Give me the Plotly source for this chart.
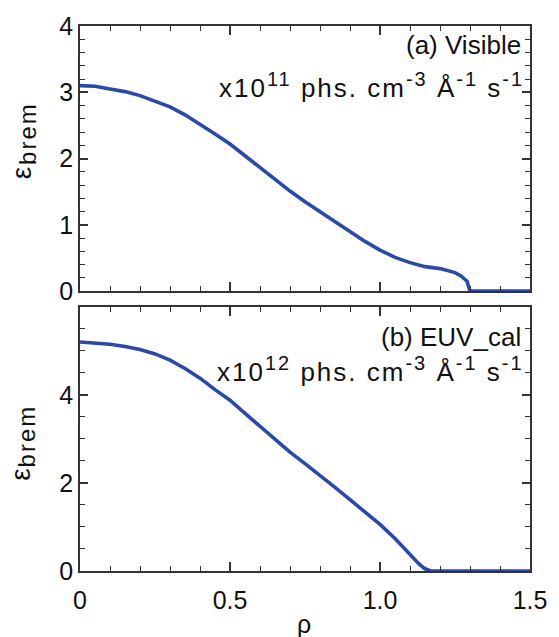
import plotly.graph_objects as go
from plotly.subplots import make_subplots

# Radial coordinate (normalised minor radius)
rho_a = [0.0, 0.05, 0.1, 0.15, 0.2, 0.25, 0.3, 0.35, 0.4, 0.45, 0.5, 0.55, 0.6, 0.65,
         0.7, 0.75, 0.8, 0.85, 0.9, 0.95, 1.0, 1.05, 1.1, 1.15, 1.2, 1.25, 1.27, 1.29,
         1.3, 1.35, 1.4, 1.45, 1.5]
# (a) visible bremsstrahlung emissivity, x1e11 phs cm^-3 A^-1 s^-1
eps_visible = [3.10, 3.09, 3.05, 3.01, 2.95, 2.87, 2.78, 2.66, 2.52, 2.37, 2.22, 2.04, 1.86, 1.68,
               1.51, 1.35, 1.20, 1.04, 0.89, 0.75, 0.62, 0.51, 0.43, 0.37, 0.34, 0.28, 0.23, 0.15,
               0.0, 0.0, 0.0, 0.0, 0.0]

rho_b = [0.0, 0.05, 0.1, 0.15, 0.2, 0.25, 0.3, 0.35, 0.4, 0.45, 0.5, 0.55, 0.6, 0.65,
         0.7, 0.75, 0.8, 0.85, 0.9, 0.95, 1.0, 1.05, 1.1, 1.13, 1.15, 1.17, 1.5]
# (b) EUV_cal bremsstrahlung emissivity, x1e12 phs cm^-3 A^-1 s^-1
eps_euv = [5.20, 5.18, 5.15, 5.10, 5.03, 4.93, 4.79, 4.60, 4.38, 4.12, 3.88, 3.58, 3.28, 2.98,
           2.70, 2.44, 2.18, 1.90, 1.62, 1.34, 1.06, 0.74, 0.38, 0.16, 0.05, 0.0, 0.0]

x_ticks = [0, 0.5, 1.0, 1.5]
x_ticklabels = ["0", "0.5", "1.0", "1.5"]
y_ticks_a = [0, 1, 2, 3, 4]
y_ticks_b = [0, 2, 4]

LINE = "#2a49a8"
AX = "#333333"
FONT = "Arial, Liberation Sans, sans-serif"
FS = 25

fig = make_subplots(rows=2, cols=1, vertical_spacing=0.0)
fig.add_trace(go.Scatter(x=rho_a, y=eps_visible, mode="lines",
                         line=dict(color=LINE, width=3.6), showlegend=False), row=1, col=1)
fig.add_trace(go.Scatter(x=rho_b, y=eps_euv, mode="lines",
                         line=dict(color=LINE, width=3.6), showlegend=False), row=2, col=1)

common_ax = dict(showline=True, linecolor=AX, linewidth=1.5, mirror="ticks",
                 ticks="inside", tickcolor=AX, tickwidth=1.5, showgrid=False,
                 zeroline=False, tickfont=dict(family=FONT, size=FS, color="#111"))

fig.update_xaxes(common_ax, range=[0, 1.5], tickvals=x_ticks, ticktext=x_ticklabels,
                 ticklen=9, minor=dict(dtick=0.1, ticklen=5, ticks="inside",
                                       tickcolor=AX, tickwidth=1.3, showgrid=False))
fig.update_xaxes(showticklabels=False, row=1, col=1)
fig.update_xaxes(ticklabelstandoff=6, row=2, col=1)

fig.update_yaxes(common_ax, ticklen=8)
fig.update_yaxes(range=[0, 4], tickvals=y_ticks_a,
                 minor=dict(dtick=0.2, ticklen=5, ticks="inside", tickcolor=AX,
                            tickwidth=1.3, showgrid=False), row=1, col=1)
fig.update_yaxes(range=[0, 6], tickvals=y_ticks_b,
                 minor=dict(dtick=0.5, ticklen=5, ticks="inside", tickcolor=AX,
                            tickwidth=1.3, showgrid=False), row=2, col=1)

fig.update_layout(
    width=559, height=637,
    margin=dict(l=80, r=22, t=16, b=66),
    paper_bgcolor="white", plot_bgcolor="white",
    yaxis=dict(domain=[0.5135, 1.0]),
    yaxis2=dict(domain=[0.0, 0.4847]),
    font=dict(family=FONT, size=FS, color="#111"),
)


def sup(s):
    return "<sup><span style='font-size:20px'>" + s + "</span></sup>"


def unit_line(power):
    body = ("x10" + sup(power) + " phs. cm" + sup("-3") + " Å" + sup("-1")
            + " s" + sup("-1"))
    return "<span style='letter-spacing:2px'>" + body + "</span>"


txt = dict(font=dict(family=FONT, size=26, color="#111"), showarrow=False,
           xref="paper", yref="paper", xanchor="right", yanchor="middle")
fig.add_annotation(txt, x=0.985, y=0.965, text="(a) Visible")
fig.add_annotation(txt, x=0.990, y=0.890, text=unit_line("11"))
fig.add_annotation(txt, x=0.985, y=0.430, text="(b) EUV_cal")
fig.add_annotation(txt, x=0.990, y=0.370, text=unit_line("12"))

# y-axis symbol: epsilon with a lowered "brem", built from two rotated labels
rot = dict(showarrow=False, xref="paper", yref="paper", xanchor="center",
           yanchor="middle", textangle=-90)
for y_eps, y_sub in [(0.7297, 0.8036), (0.1766, 0.2486)]:
    fig.add_annotation(rot, x=-0.131, y=y_eps, text="ε",
                       font=dict(family=FONT, size=28, color="#111"))
    fig.add_annotation(rot, x=-0.118, y=y_sub,
                       text="<span style='letter-spacing:2px'>brem</span>",
                       font=dict(family=FONT, size=24, color="#111"))

fig.add_annotation(font=dict(family=FONT, size=25, color="#111"), showarrow=False,
                   xref="paper", yref="paper", x=0.497, y=-0.097,
                   xanchor="center", yanchor="middle", text="ρ")

fig.write_html("out.html")
